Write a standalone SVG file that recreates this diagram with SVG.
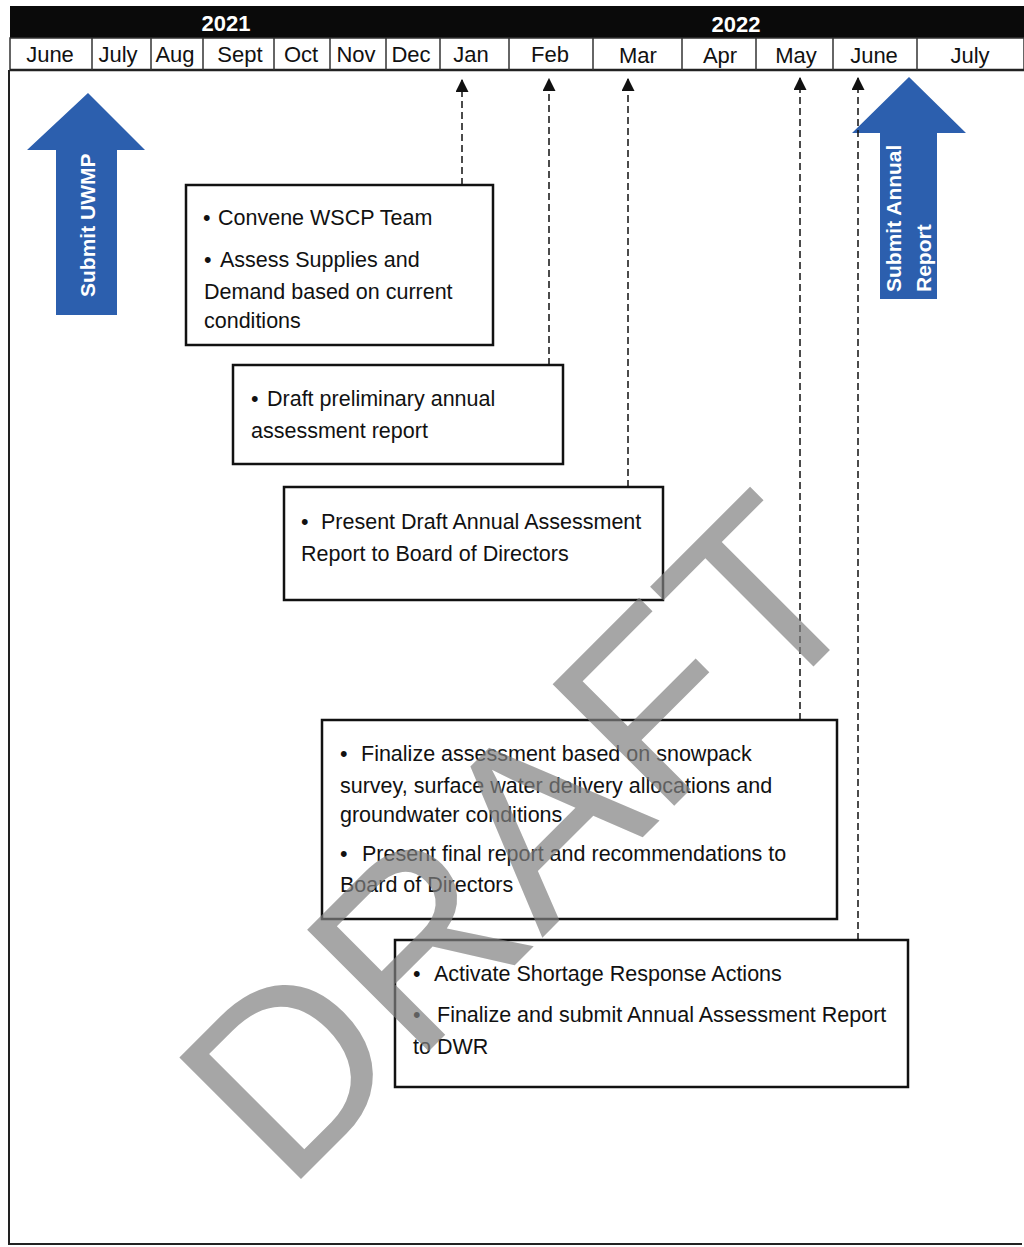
<svg xmlns="http://www.w3.org/2000/svg" width="1024" height="1247" viewBox="0 0 1024 1247">
<defs>
<style>
.bg{fill:#ffffff}
.frame{fill:none;stroke:#222;stroke-width:2}
.band{fill:#0a0a0a}
.year{font-family:"Liberation Sans",Arial,sans-serif;font-weight:bold;font-size:22px;fill:#ffffff;text-anchor:middle}
.month{font-family:"Liberation Sans",Arial,sans-serif;font-size:22px;fill:#111;text-anchor:middle}
.div{stroke:#333;stroke-width:1.5}
.box{fill:none;stroke:#111;stroke-width:2.5}
.t{font-family:"Liberation Sans",Arial,sans-serif;font-size:21.5px;fill:#111}
.blue{fill:#2c5fae}
.bt{font-family:"Liberation Sans",Arial,sans-serif;font-weight:bold;font-size:21px;fill:#ffffff}
.dash{stroke:#111;stroke-width:1.5;stroke-dasharray:7 4;fill:none}
.wm{font-family:"Liberation Sans",Arial,sans-serif;font-size:250px;fill:#808080;fill-opacity:0.7}
</style>
<marker id="ah" viewBox="0 0 12 12" refX="11" refY="6" markerWidth="13" markerHeight="13" markerUnits="userSpaceOnUse" orient="auto">
<path d="M0,0 L12,6 L0,12 Z" fill="#111"/>
</marker>
</defs>
<rect class="bg" x="0" y="0" width="1024" height="1247"/>

<g id="header">
<rect class="band" x="10" y="6" width="1014" height="32"/>
<text class="year" x="226" y="31">2021</text>
<text class="year" x="736" y="32">2022</text>
<rect x="10" y="38" width="1014" height="32" fill="#fff" stroke="#333" stroke-width="1.5"/>
<line x1="10" y1="70" x2="1024" y2="70" stroke="#222" stroke-width="2.5"/>
<g>
<line class="div" x1="92" y1="38" x2="92" y2="70"/>
<line class="div" x1="151" y1="38" x2="151" y2="70"/>
<line class="div" x1="203" y1="38" x2="203" y2="70"/>
<line class="div" x1="274" y1="38" x2="274" y2="70"/>
<line class="div" x1="330" y1="38" x2="330" y2="70"/>
<line class="div" x1="386" y1="38" x2="386" y2="70"/>
<line class="div" x1="440" y1="38" x2="440" y2="70"/>
<line class="div" x1="509" y1="38" x2="509" y2="70"/>
<line class="div" x1="593" y1="38" x2="593" y2="70"/>
<line class="div" x1="682" y1="38" x2="682" y2="70"/>
<line class="div" x1="756" y1="38" x2="756" y2="70"/>
<line class="div" x1="833" y1="38" x2="833" y2="70"/>
<line class="div" x1="917" y1="38" x2="917" y2="70"/>
</g>
<text class="month" x="50" y="62">June</text>
<text class="month" x="118" y="62">July</text>
<text class="month" x="175" y="62">Aug</text>
<text class="month" x="240" y="62">Sept</text>
<text class="month" x="301" y="62">Oct</text>
<text class="month" x="356" y="62">Nov</text>
<text class="month" x="411" y="62">Dec</text>
<text class="month" x="471" y="62">Jan</text>
<text class="month" x="550" y="62">Feb</text>
<text class="month" x="638" y="63">Mar</text>
<text class="month" x="720" y="63">Apr</text>
<text class="month" x="796" y="63">May</text>
<text class="month" x="874" y="63">June</text>
<text class="month" x="970" y="63">July</text>
</g>

<path class="frame" d="M9,70 L9,1244 L1022,1244"/>

<g id="submit-uwmp">
<path class="blue" d="M88,93 L145,150 L117,150 L117,315 L56,315 L56,150 L27,150 Z"/>
<text class="bt" transform="translate(95,297) rotate(-90)" x="0" y="0">Submit UWMP</text>
</g>

<g id="submit-annual-report">
<path class="blue" d="M909,77 L966,133 L937,133 L937,299 L880,299 L880,133 L852,133 Z"/>
<text class="bt" transform="translate(901,292) rotate(-90)" x="0" y="0">Submit Annual</text>
<text class="bt" transform="translate(931,292) rotate(-90)" x="0" y="0">Report</text>
</g>

<g id="box-jan">
<rect class="box" x="186" y="185" width="307" height="160"/>
<text class="t" y="225"><tspan x="203">•</tspan><tspan x="218">Convene WSCP Team</tspan></text>
<text class="t" y="267"><tspan x="204">•</tspan><tspan x="220">Assess Supplies and</tspan></text>
<text class="t" x="204" y="299">Demand based on current</text>
<text class="t" x="204" y="328">conditions</text>
</g>

<g id="box-feb">
<rect class="box" x="233" y="365" width="330" height="99"/>
<text class="t" y="406"><tspan x="251">•</tspan><tspan x="267">Draft preliminary annual</tspan></text>
<text class="t" x="251" y="438">assessment report</text>
</g>

<g id="box-mar">
<rect class="box" x="284" y="487" width="379" height="113"/>
<text class="t" y="529"><tspan x="301">•</tspan><tspan x="321">Present Draft Annual Assessment</tspan></text>
<text class="t" x="301" y="561">Report to Board of Directors</text>
</g>

<g id="box-may">
<rect class="box" x="322" y="720" width="515" height="199"/>
<text class="t" y="761"><tspan x="340">•</tspan><tspan x="361">Finalize assessment based on snowpack</tspan></text>
<text class="t" x="340" y="793">survey, surface water delivery allocations and</text>
<text class="t" x="340" y="822">groundwater conditions</text>
<text class="t" y="861"><tspan x="340">•</tspan><tspan x="362">Present final report and recommendations to</tspan></text>
<text class="t" x="340" y="892">Board of Directors</text>
</g>

<g id="box-june">
<rect class="box" x="395" y="940" width="513" height="147"/>
<text class="t" y="981"><tspan x="413">•</tspan><tspan x="434">Activate Shortage Response Actions</tspan></text>
<text class="t" y="1022"><tspan x="413">•</tspan><tspan x="437">Finalize and submit Annual Assessment Report</tspan></text>
<text class="t" x="413" y="1054">to DWR</text>
</g>

<g id="connectors">
<line class="dash" x1="462" y1="185" x2="462" y2="80" marker-end="url(#ah)"/>
<line class="dash" x1="549" y1="365" x2="549" y2="79" marker-end="url(#ah)"/>
<line class="dash" x1="628" y1="487" x2="628" y2="79" marker-end="url(#ah)"/>
<line class="dash" x1="800" y1="720" x2="800" y2="78" marker-end="url(#ah)"/>
<line class="dash" x1="858" y1="940" x2="858" y2="78" marker-end="url(#ah)"/>
</g>

<g id="watermark">
<text class="wm" transform="translate(300,1180) rotate(-45)" x="-19" y="0">DRAFT</text>
</g>
</svg>
